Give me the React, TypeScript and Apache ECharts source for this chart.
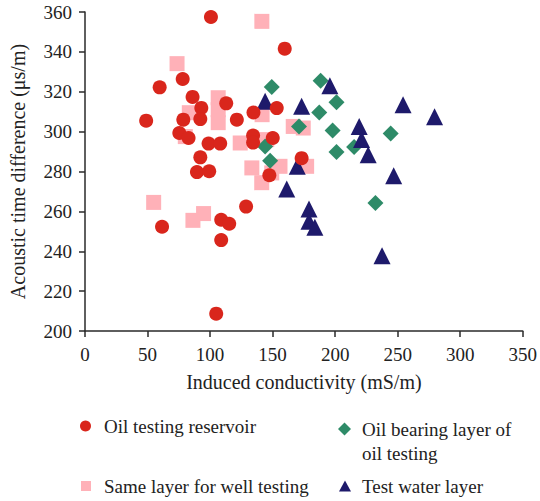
import React, { useEffect, useRef } from "react";
import * as echarts from "echarts";

const FONT = "'Liberation Serif', 'DejaVu Serif', serif";

const xAxisName = "Induced conductivity (mS/m)";
const yAxisName = "Acoustic time difference (μs/m)";
const xRange = [0, 350];
const xStep = 50;
const yRange = [200, 360];
const yStep = 20;

const nameReservoir = "Oil testing reservoir";
const nameSameLayer = "Same layer for well testing";
const nameOilBearing = "Oil bearing layer of\noil testing";
const nameWater = "Test water layer";

const oilTestingReservoir: number[][] = [
  [100.7, 357.5], [159.7, 341.6], [59.7, 322.2], [78.1, 326.4], [48.9, 305.5],
  [86.0, 317.4], [93.0, 311.9], [92.2, 306.3], [78.6, 306.0], [112.9, 314.2],
  [121.4, 306.0], [75.4, 299.3], [82.8, 296.8], [98.8, 294.0], [108.1, 294.0],
  [134.7, 309.6], [134.4, 298.0], [134.4, 294.5], [153.3, 311.8], [150.1, 296.8],
  [173.2, 286.7], [147.4, 278.1], [92.2, 287.1], [89.5, 279.7], [99.3, 280.1],
  [128.8, 262.4], [61.6, 252.3], [108.9, 255.8], [115.3, 253.8], [108.9, 245.6],
  [104.9, 208.7],
];

const sameLayerWellTesting: number[][] = [
  [73.6, 334.1], [141.4, 355.3], [106.5, 317.0], [106.5, 311.0], [106.5, 304.5],
  [80.2, 297.5], [83.4, 309.5], [124.1, 294.3], [133.4, 281.8], [141.3, 274.4],
  [155.9, 282.6], [54.9, 264.5], [86.3, 255.5], [94.8, 258.9], [141.6, 308.5],
  [166.5, 302.6], [174.5, 301.8], [177.2, 282.6], [145.3, 296.0], [149.3, 279.3],
];

const oilBearingLayer: number[][] = [
  [149.3, 322.4], [188.4, 325.5], [201.1, 314.7], [187.3, 309.6], [171.1, 302.6],
  [198.0, 300.6], [244.4, 299.0], [201.1, 289.8], [215.2, 292.3], [144.0, 292.6],
  [148.0, 285.4], [232.2, 264.2],
];

const testWaterLayer: number[][] = [
  [195.8, 323.0], [144.0, 315.2], [173.2, 312.7], [254.3, 313.5], [279.5, 307.4],
  [219.2, 302.6], [221.1, 296.0], [226.4, 288.4], [246.8, 277.9], [169.7, 282.6],
  [161.3, 271.2], [179.1, 261.2], [179.1, 255.0], [183.8, 252.0], [237.5, 237.8],
];

const RED = "#d9261c";
const PINK = "#ffb1b8";
const GREEN = "#2e8b68";
const NAVY = "#1e1a6b";
const AXIS = "#2a2a2a";
const TEXT = "#222222";

export default function App() {
  const ref = useRef<HTMLDivElement>(null);
  useEffect(() => {
    if (!ref.current) return;
    const chart = echarts.init(ref.current, null, { renderer: "svg" });
    const axisCommon = {
      type: "value",
      nameLocation: "middle",
      nameTextStyle: { fontSize: 20, color: TEXT, fontFamily: FONT },
      axisLine: { show: true, onZero: false, lineStyle: { color: AXIS, width: 1.5 } },
      axisTick: { show: true, length: 6, lineStyle: { color: AXIS, width: 1.5 } },
      axisLabel: { fontSize: 19, color: TEXT, fontFamily: FONT },
      splitLine: { show: false },
    };
    const legendCommon = {
      padding: 0,
      selectedMode: false,
      orient: "vertical",
      textStyle: { fontSize: 19, color: TEXT, fontFamily: FONT, lineHeight: 24, padding: [0, 0, 0, 8] },
    };
    chart.setOption({
      animation: false,
      backgroundColor: "#ffffff",
      textStyle: { fontFamily: FONT },
      grid: { left: 85, right: 17, top: 12, bottom: 170 },
      xAxis: {
        ...axisCommon,
        min: xRange[0],
        max: xRange[1],
        interval: xStep,
        name: xAxisName,
        nameGap: 41,
        axisLabel: { ...axisCommon.axisLabel, margin: 14 },
      },
      yAxis: {
        ...axisCommon,
        min: yRange[0],
        max: yRange[1],
        interval: yStep,
        name: yAxisName,
        nameGap: 57,
        axisLabel: { ...axisCommon.axisLabel, margin: 13 },
      },
      legend: [
        { ...legendCommon, left: 80, top: 414, itemWidth: 11, itemHeight: 11, data: [{ name: nameReservoir, icon: "circle" }] },
        { ...legendCommon, left: 81, top: 474, itemWidth: 10, itemHeight: 10, data: [{ name: nameSameLayer, icon: "rect" }] },
        {
          ...legendCommon, left: 338, top: 393, itemWidth: 13, itemHeight: 13,
          data: [{ name: nameOilBearing, icon: "diamond" }],
          formatter: (n: string) => "\n" + n,
          textStyle: { ...legendCommon.textStyle, padding: [0, 0, 0, 6] },
        },
        {
          ...legendCommon, left: 339, top: 474, itemWidth: 12, itemHeight: 11,
          data: [{ name: nameWater, icon: "triangle" }],
          textStyle: { ...legendCommon.textStyle, padding: [0, 0, 0, 6] },
        },
      ],
      series: [
        { type: "scatter", name: nameSameLayer, symbol: "rect", symbolSize: 15, z: 1, itemStyle: { color: PINK, opacity: 1 }, data: sameLayerWellTesting },
        { type: "scatter", name: nameOilBearing, symbol: "diamond", symbolSize: 16, z: 2, itemStyle: { color: GREEN, opacity: 1 }, data: oilBearingLayer },
        { type: "scatter", name: nameWater, symbol: "triangle", symbolSize: 17, z: 3, itemStyle: { color: NAVY, opacity: 1 }, data: testWaterLayer },
        { type: "scatter", name: nameReservoir, symbol: "circle", symbolSize: 14, z: 4, itemStyle: { color: RED, opacity: 1 }, data: oilTestingReservoir },
      ],
    });
    return () => chart.dispose();
  }, []);
  return (
    <div
      ref={ref}
      style={{ position: "absolute", left: 0, top: 0, width: 540, height: 501, background: "#fff" }}
    />
  );
}
